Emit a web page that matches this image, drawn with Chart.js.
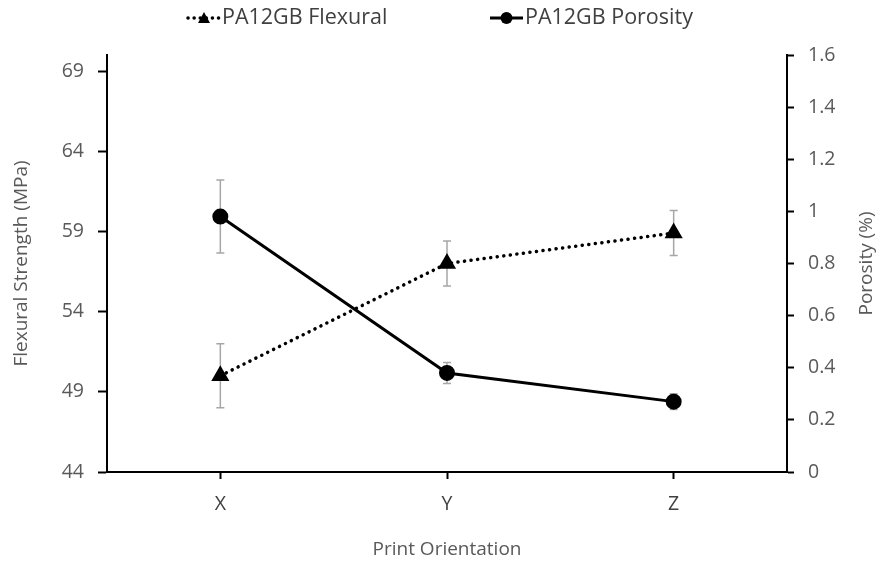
<!DOCTYPE html>
<html>
<head>
<meta charset="utf-8">
<script src="https://cdn.jsdelivr.net/npm/chart.js@4.4.1/dist/chart.umd.min.js"></script>
<style>
  html, body { margin: 0; padding: 0; background: #fff; }
  #wrap { width: 880px; height: 565px; }
</style>
</head>
<body>
<div id="wrap"><canvas id="chart"></canvas></div>
<script>
// data
const orientations = ['X', 'Y', 'Z'];
const flexural = [50.0, 57.0, 58.9];
const flexuralErr = [2.0, 1.4, 1.4];
const porosity = [0.98, 0.38, 0.27];
const porosityErr = [0.14, 0.04, 0.03];
const flexTicks = [44, 49, 54, 59, 64, 69];
const porTicks = [0, 0.2, 0.4, 0.6, 0.8, 1, 1.2, 1.4, 1.6];

const FONT = "'Open Sans', 'Noto Sans', sans-serif";
const TXT = '#595959';

// gray error bars under the lines
const errorBars = {
  id: 'errorBars',
  beforeDatasetsDraw(chart) {
    const ctx = chart.ctx;
    chart.data.datasets.forEach((ds, di) => {
      const meta = chart.getDatasetMeta(di);
      const scale = chart.scales[ds.yAxisID];
      ctx.save();
      ctx.strokeStyle = '#a6a6a6';
      ctx.lineWidth = 1.5;
      meta.data.forEach((pt, i) => {
        const top = scale.getPixelForValue(ds.data[i] + ds.errors[i]);
        const bot = scale.getPixelForValue(ds.data[i] - ds.errors[i]);
        ctx.beginPath();
        ctx.moveTo(pt.x, top); ctx.lineTo(pt.x, bot);
        ctx.moveTo(pt.x - 4, top); ctx.lineTo(pt.x + 4, top);
        ctx.moveTo(pt.x - 4, bot); ctx.lineTo(pt.x + 4, bot);
        ctx.stroke();
      });
      ctx.restore();
    });
  }
};

// legend at the top + right axis title (reads bottom to top like the left one)
const extras = {
  id: 'extras',
  afterDraw(chart) {
    const ctx = chart.ctx;
    const y = 18;
    ctx.save();
    ctx.strokeStyle = '#000';
    ctx.fillStyle = '#000';
    // flexural: dotted line with triangle
    ctx.lineWidth = 3.5;
    ctx.lineCap = 'round';
    ctx.setLineDash([0.1, 6]);
    ctx.beginPath(); ctx.moveTo(188, y); ctx.lineTo(220, y); ctx.stroke();
    ctx.setLineDash([]);
    ctx.beginPath();
    ctx.moveTo(204, y - 6); ctx.lineTo(210, y + 5); ctx.lineTo(198, y + 5);
    ctx.closePath(); ctx.fill();
    // porosity: solid line with circle
    ctx.lineWidth = 3;
    ctx.lineCap = 'butt';
    ctx.beginPath(); ctx.moveTo(490, y); ctx.lineTo(523, y); ctx.stroke();
    ctx.beginPath(); ctx.arc(506.5, y, 6, 0, Math.PI * 2); ctx.fill();

    ctx.fillStyle = '#404040';
    ctx.font = '21.5px ' + FONT;
    ctx.textBaseline = 'middle';
    ctx.textAlign = 'left';
    ctx.fillText(chart.data.datasets[0].label, 222, y);
    ctx.fillText(chart.data.datasets[1].label, 525, y);

    ctx.fillStyle = TXT;
    ctx.translate(867, (chart.chartArea.top + chart.chartArea.bottom) / 2);
    ctx.rotate(-Math.PI / 2);
    ctx.textAlign = 'center';
    ctx.font = '19px ' + FONT;
    ctx.fillText('Porosity (%)', 0, 0);
    ctx.restore();
  }
};

new Chart(document.getElementById('chart').getContext('2d'), {
  type: 'line',
  data: {
    labels: orientations,
    datasets: [{
      label: 'PA12GB Flexural',
      data: flexural,
      errors: flexuralErr,
      yAxisID: 'y',
      borderColor: '#000',
      backgroundColor: '#000',
      borderWidth: 3.5,
      borderDash: [0.1, 6.5],
      borderCapStyle: 'round',
      pointStyle: 'triangle',
      pointRadius: 7,
      pointHoverRadius: 7
    }, {
      label: 'PA12GB Porosity',
      data: porosity,
      errors: porosityErr,
      yAxisID: 'y1',
      borderColor: '#000',
      backgroundColor: '#000',
      borderWidth: 3,
      pointStyle: 'circle',
      pointRadius: 6.5,
      pointHoverRadius: 6.5
    }]
  },
  options: {
    responsive: true,
    maintainAspectRatio: false,
    animation: false,
    layout: { padding: { top: 55, left: 0, right: 0, bottom: 0 } },
    plugins: {
      legend: { display: false },
      tooltip: { enabled: false }
    },
    scales: {
      x: {
        offset: true,
        afterFit(scale) { scale.height = 93; },
        grid: { display: true, drawOnChartArea: false, tickLength: 7, tickColor: '#000', tickWidth: 2, offset: false },
        border: { color: '#000', width: 2 },
        ticks: { color: '#404040', font: { family: FONT, size: 19.5 }, padding: 14 },
        title: { display: true, text: 'Print Orientation', color: TXT, font: { family: FONT, size: 19 }, padding: { top: 8 } }
      },
      y: {
        position: 'left',
        min: 44, max: 70,
        afterFit(scale) { scale.width = 107; },
        afterBuildTicks(scale) { scale.ticks = flexTicks.map(v => ({ value: v })); },
        grid: { display: true, drawOnChartArea: false, tickLength: 9, tickColor: '#000', tickWidth: 2 },
        border: { color: '#000', width: 2 },
        ticks: { color: TXT, font: { family: FONT, size: 19.5 }, padding: 14 },
        title: { display: true, text: 'Flexural Strength (MPa)', color: TXT, font: { family: FONT, size: 19 }, padding: { top: 10, bottom: 0 } }
      },
      y1: {
        position: 'right',
        min: 0, max: 1.6,
        afterFit(scale) { scale.width = 93; },
        afterBuildTicks(scale) { scale.ticks = porTicks.map(v => ({ value: v })); },
        grid: { display: true, drawOnChartArea: false, tickLength: 7, tickColor: '#000', tickWidth: 2 },
        border: { color: '#000', width: 2 },
        ticks: { color: TXT, font: { family: FONT, size: 19.5 }, padding: 14, callback: v => String(+v.toFixed(1)) }
      }
    }
  },
  plugins: [errorBars, extras]
});
</script>
</body>
</html>
